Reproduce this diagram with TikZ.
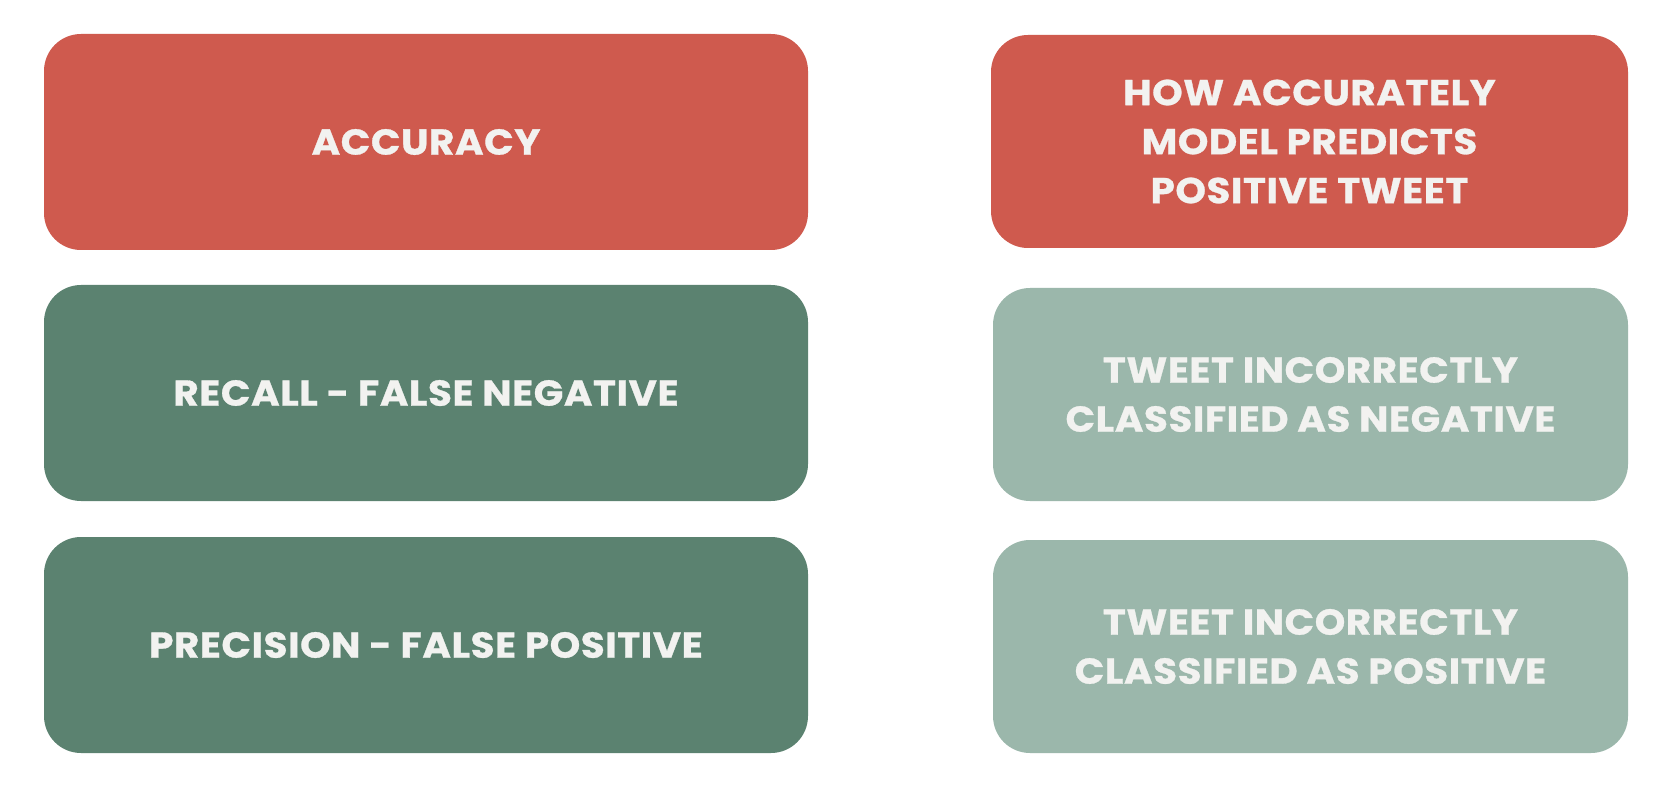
\documentclass[tikz,border=0pt]{standalone}
\usepackage{fontspec}
\setmainfont{Poppins}[BoldFeatures={LetterSpace=1.5,FakeBold=0.8,FakeStretch=1.08}]
\definecolor{cred}{HTML}{CF5A4E}
\definecolor{cdark}{HTML}{5B8270}
\definecolor{clight}{HTML}{9BB7AB}
\definecolor{ctext}{HTML}{F2F2F0}
\begin{document}
\begin{tikzpicture}[x=1pt,y=-1pt,
  card/.style={rounded corners=37pt},
  lbl/.style={text=ctext,font=\fontsize{36}{49}\selectfont\bfseries,align=center}]
\useasboundingbox (0,0) rectangle (1670,786);
\fill[white] (0,0) rectangle (1670,786);
\fill[cred,card] (44,34) rectangle (808,250);
\fill[cdark,card] (44,285) rectangle (808,501);
\fill[cdark,card] (44,537) rectangle (808,753);
\fill[cred,card] (991,35) rectangle (1628,248);
\fill[clight,card] (993,288) rectangle (1628,501);
\fill[clight,card] (993,540) rectangle (1628,753);
\node[lbl] (a) at (426,142) {ACCURACY};
\node[lbl] (r) at (426,393) {RECALL - FALSE NEGATIVE};
\node[lbl] (p) at (426,645) {PRECISION - FALSE POSITIVE};
\node[lbl] (a2) at (1309.5,141.5) {HOW ACCURATELY\\MODEL PREDICTS\\POSITIVE TWEET};
\node[lbl] (r2) at (1310.5,394.5) {TWEET INCORRECTLY\\CLASSIFIED AS NEGATIVE};
\node[lbl] (p2) at (1310.5,646.5) {TWEET INCORRECTLY\\CLASSIFIED AS POSITIVE};
\end{tikzpicture}
\end{document}
